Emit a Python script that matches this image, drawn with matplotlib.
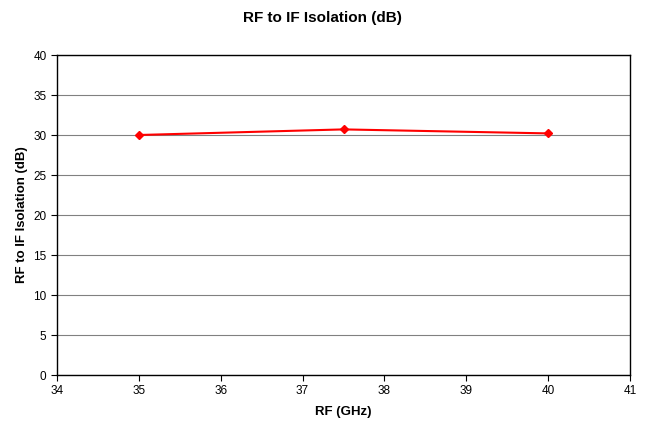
import matplotlib
matplotlib.use("Agg")
import matplotlib.pyplot as plt

plt.rcParams['font.family'] = ['Liberation Sans', 'DejaVu Sans']

rf_ghz = [35, 37.5, 40]
isolation_db = [30.0, 30.7, 30.2]
x_ticks = [34, 35, 36, 37, 38, 39, 40, 41]
y_ticks = [0, 5, 10, 15, 20, 25, 30, 35, 40]

fig = plt.figure(figsize=(6.45, 4.21), dpi=100)
ax = fig.add_axes([57/645, 46/421, (630-57)/645, (375-55)/421])

ax.set_xlim(34, 41)
ax.set_ylim(0, 40)
ax.set_xticks(x_ticks)
ax.set_yticks(y_ticks)
ax.yaxis.grid(True, color='#808080', linewidth=0.8)
ax.set_axisbelow(True)

ax.plot(rf_ghz, isolation_db, color='#FF0000', linewidth=1.5, marker='D',
        markersize=4.5, markerfacecolor='#FF0000', markeredgecolor='#FF0000', zorder=3)

for s in ax.spines.values():
    s.set_linewidth(1.0)
    s.set_color('black')

ax.tick_params(axis='both', direction='out', length=4, width=0.8, labelsize=8.5, colors='black')
ax.set_xlabel('RF (GHz)', fontsize=9.5, fontweight='bold', labelpad=6)
ax.set_ylabel('RF to IF Isolation (dB)', fontsize=9.5, fontweight='bold', labelpad=4)
fig.text(0.5, 1 - 18/421, 'RF to IF Isolation (dB)', ha='center', va='center',
         fontsize=11, fontweight='bold')

fig.savefig('out.png', dpi=100, facecolor='white')
